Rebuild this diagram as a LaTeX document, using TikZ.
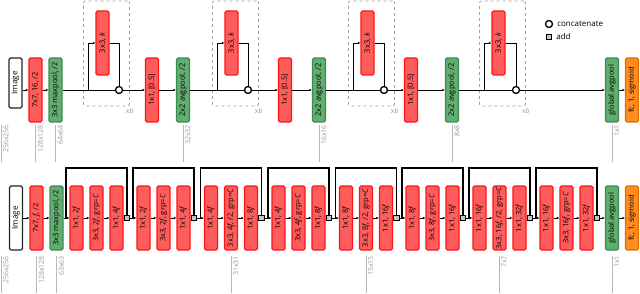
\documentclass[tikz,border=0pt]{standalone}
\usepackage{fontspec}
\setmainfont{Open Sans}
\usetikzlibrary{arrows.meta,positioning}

\definecolor{convfill}{HTML}{FF5C5C}
\definecolor{convline}{HTML}{FF1414}
\definecolor{poolfill}{HTML}{62AE70}
\definecolor{poolline}{HTML}{3F8A52}
\definecolor{fcfill}{HTML}{FF8C1E}
\definecolor{fcline}{HTML}{E46E00}
\definecolor{dashgray}{HTML}{A0A0A0}
\definecolor{dimgray}{HTML}{9A9A9A}

\newcommand{\vtext}[1]{\rotatebox{90}{#1}}

\begin{document}
\begin{tikzpicture}[
  x=1pt, y=-1pt,
  blk/.style={draw, rounded corners=1.5pt, line width=1.1pt, minimum width=13pt, minimum height=64pt, inner sep=0pt, font=\fontsize{7.5}{8}\selectfont},
  conv/.style={blk, draw=convline, fill=convfill},
  pool/.style={blk, draw=poolline, fill=poolfill},
  fcl/.style={blk, draw=fcline, fill=fcfill},
  inp/.style={blk, draw=black!85, fill=white, font=\fontsize{8}{9}\selectfont},
  densebox/.style={draw=dashgray, dashed, rounded corners=2pt, line width=0.7pt, minimum width=46pt, minimum height=105pt, inner sep=0pt},
  catnode/.style={circle, draw, line width=1.3pt, fill=white, minimum size=7pt, inner sep=0pt},
  sumsq/.style={draw, line width=0.8pt, fill=gray!45, minimum size=5.5pt, inner sep=0pt},
  arr/.style={-{Latex[length=2.5pt,width=2.2pt]}, line width=0.8pt},
  link/.style={line width=0.8pt},
  skipline/.style={line width=1.1pt},
  dimline/.style={draw=dimgray!70, line width=0.9pt},
  dimtxt/.style={text=dimgray, inner sep=0pt, font=\fontsize{7}{8}\selectfont},
  legendtxt/.style={inner sep=0pt, font=\fontsize{8}{9}\selectfont}
]
\useasboundingbox (0,0) rectangle (640,294);

% dense blocks (drawn first, behind the lines)
\node[densebox] (dA1) at (106.5,53.5) {};
\node[densebox] (dA2) at (235.5,53.5) {};
\node[densebox] (dA3) at (371.5,53.5) {};
\node[densebox] (dA4) at (502.5,53.5) {};
\foreach \d in {dA1,dA2,dA3,dA4}
  \node[dimtxt, anchor=north, yshift=-1.5pt] at (\d.south east) {x\textit{b}};

% top row
\node[inp, minimum height=50pt] (imgA) at (15.5,83) {\vtext{Image}};
\node[conv] (cA1) at (35.5,90) {\vtext{7x7, 16, /2}};
\node[pool] (pA1) at (55.5,90) {\vtext{3x3 maxpool, /2}};

\node[conv] (kA1) at (102.5,43) {\vtext{3x3, \textit{k}}};
\node[catnode] (catA1) at (119,90) {};
\coordinate (brA1) at (88,90);
\node[conv] (tA1) at (152,90) {\vtext{1x1, [0.5]}};
\node[pool] (aA1) at (183,90) {\vtext{2x2 avgpool, /2}};

\node[conv] (kA2) at (231.5,43) {\vtext{3x3, \textit{k}}};
\node[catnode] (catA2) at (248,90) {};
\coordinate (brA2) at (217,90);
\node[conv] (tA2) at (285,90) {\vtext{1x1, [0.5]}};
\node[pool] (aA2) at (319,90) {\vtext{2x2 avgpool, /2}};

\node[conv] (kA3) at (367.5,43) {\vtext{3x3, \textit{k}}};
\node[catnode] (catA3) at (384,90) {};
\coordinate (brA3) at (353,90);
\node[conv] (tA3) at (411,90) {\vtext{1x1, [0.5]}};
\node[pool] (aA3) at (452,90) {\vtext{2x2 avgpool, /2}};

\node[conv] (kA4) at (498.5,43) {\vtext{3x3, \textit{k}}};
\node[catnode] (catA4) at (516,90) {};
\coordinate (brA4) at (484,90);

\node[pool] (gA) at (612,90) {\vtext{global avgpool}};
\node[fcl] (fA) at (632,90) {\vtext{fc, 1, sigmoid}};

\draw[arr] (imgA.east |- cA1.west) -- (cA1.west);
\draw[arr] (cA1) -- (pA1);
\draw[link] (pA1.east) -- (catA1.west);
\draw[link] (aA1.east) -- (catA2.west);
\draw[link] (aA2.east) -- (catA3.west);
\draw[link] (aA3.east) -- (catA4.west);
\foreach \i in {1,2,3,4} {
  \draw[arr] (brA\i) |- (kA\i.west);
  \draw[link] (kA\i.east) -| (catA\i.north);
}
\foreach \i in {1,2,3} {
  \draw[arr] (catA\i.east) -- (tA\i.west);
  \draw[arr] (tA\i) -- (aA\i);
}
\draw[arr] (catA4.east) -- (gA.west);
\draw[arr] (gA) -- (fA);

% legend
\node[catnode] (lgcat) at (549,24) {};
\node[legendtxt, right=4pt of lgcat] (lgcattxt) {concatenate};
\node[sumsq] (lgadd) at (549,37) {};
\node[legendtxt, right=4pt of lgadd] (lgaddtxt) {add};

% bottom row
\node[inp] (imgB) at (16,218) {\vtext{Image}};
\node[conv] (cB1) at (36.5,218) {\vtext{7x7, \textit{f}, /2}};
\node[pool] (pB1) at (56.5,218) {\vtext{3x3 maxpool, /2}};
\draw[arr] (imgB) -- (cB1);
\draw[arr] (cB1) -- (pB1);

\foreach \i/\s/\prev/\ta/\tb/\tc in {
  1/127/pB1/{1x1, 2\textit{f}}/{3x3, 2\textit{f}, grp=\textit{C}}/{1x1, 4\textit{f}},
  2/194/s1/{1x1, 2\textit{f}}/{3x3, 2\textit{f}, grp=\textit{C}}/{1x1, 4\textit{f}},
  3/261.5/s2/{1x1, 4\textit{f}}/{3x3, 4\textit{f}, /2, grp=\textit{C}}/{1x1, 8\textit{f}},
  4/329/s3/{1x1, 4\textit{f}}/{3x3, 4\textit{f}, grp=\textit{C}}/{1x1, 8\textit{f}},
  5/396.5/s4/{1x1, 8\textit{f}}/{3x3, 8\textit{f}, /2, grp=\textit{C}}/{1x1, 16\textit{f}},
  6/463/s5/{1x1, 8\textit{f}}/{3x3, 8\textit{f}, grp=\textit{C}}/{1x1, 16\textit{f}},
  7/530/s6/{1x1, 16\textit{f}}/{3x3, 16\textit{f}, /2, grp=\textit{C}}/{1x1, 32\textit{f}},
  8/597/s7/{1x1, 16\textit{f}}/{3x3, 16\textit{f}, grp=\textit{C}}/{1x1, 32\textit{f}}} {
  \node[conv] (bx\i) at (\s-50.5,218) {\vtext{\ta}};
  \node[conv] (by\i) at (\s-30.5,218) {\vtext{\tb}};
  \node[conv] (bz\i) at (\s-10.5,218) {\vtext{\tc}};
  \node[sumsq] (s\i) at (\s,218) {};
  \coordinate (k\i) at (\s-61,218);
  \draw[arr] (\prev.east) -- (bx\i.west);
  \draw[arr] (bx\i) -- (by\i);
  \draw[arr] (by\i) -- (bz\i);
  \draw[link] (bz\i.east) -- (s\i.west);
  \draw[skipline] (k\i) -- ++(0,-50) -| (s\i.north);
}

\node[pool] (gB) at (612,218) {\vtext{global avgpool}};
\node[fcl] (fB) at (632,218) {\vtext{fc, 1, sigmoid}};
\draw[arr] (s8.east) -- (gB.west);
\draw[arr] (gB) -- (fB);

% feature map sizes
\foreach \x/\t in {1/256x256, 35.5/128x128, 55.5/64x64, 183/32x32, 319/16x16, 452/8x8, 612/1x1} {
  \draw[dimline] (\x,125) -- (\x,162);
  \node[dimtxt, anchor=north west] at (\x+2,125) {\vtext{\t}};
}
\foreach \x/\t in {1/256x256, 36.5/128x128, 56.5/63x63, 231/31x31, 366/15x15, 499.5/7x7, 612/1x1} {
  \draw[dimline] (\x,256) -- (\x,293);
  \node[dimtxt, anchor=north west] at (\x+2,256) {\vtext{\t}};
}

\end{tikzpicture}
\end{document}
